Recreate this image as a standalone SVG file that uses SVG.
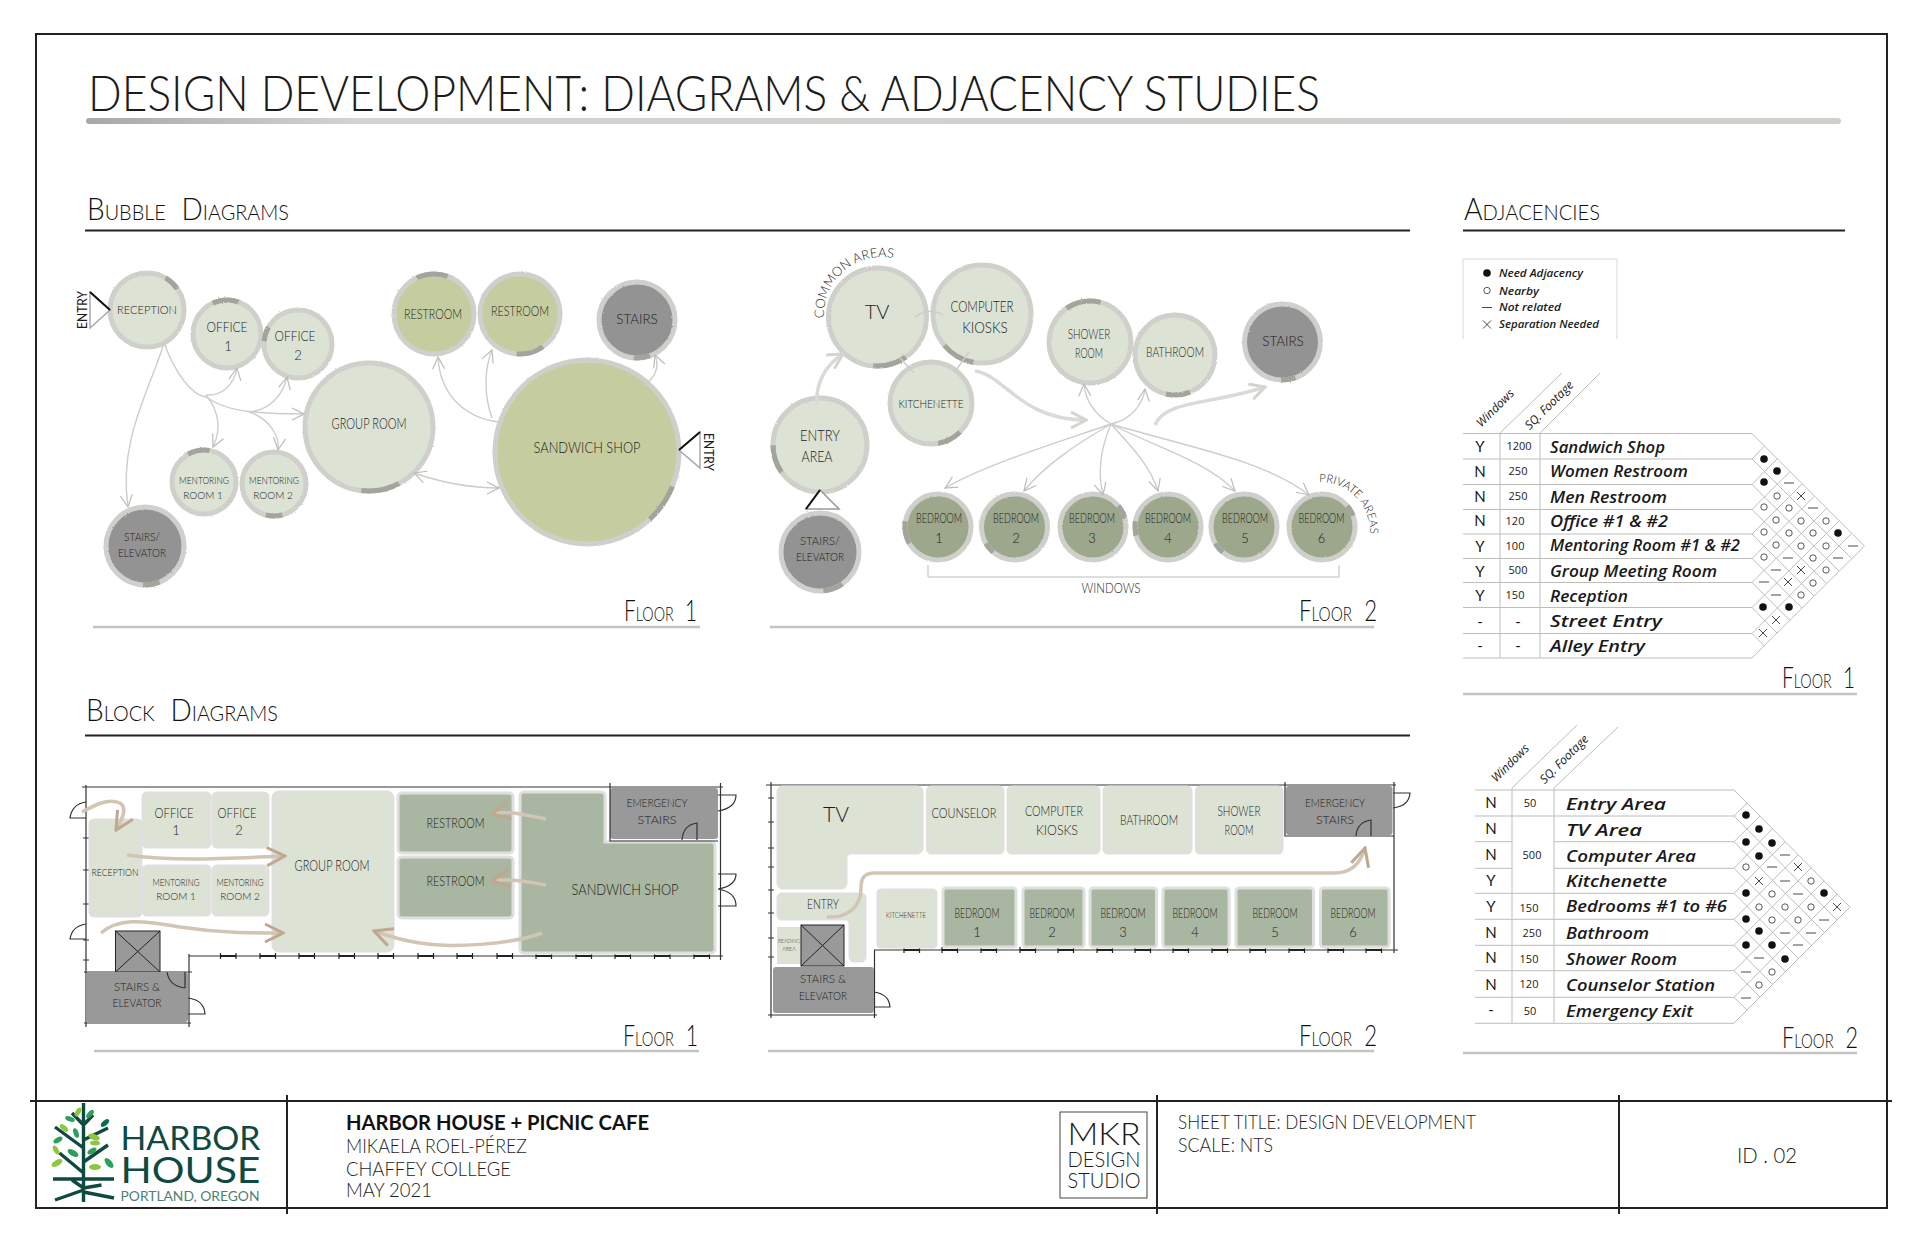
<svg xmlns="http://www.w3.org/2000/svg" width="1920" height="1242" viewBox="0 0 1920 1242">
<style>
text{font-family:"Lato","Liberation Sans",sans-serif;font-weight:300;fill:#1c1c1c;text-anchor:middle}
.s{text-anchor:start}
.l{font-size:11.5px}.m{font-size:13px}.b{font-size:15px}.h{font-size:16px}
.xs{font-size:10px}
.hd{font-size:31px;font-variant:small-caps;text-anchor:start;fill:#111;word-spacing:9px}
.fl{font-size:29px;font-variant:small-caps;text-anchor:start;fill:#111;word-spacing:8px}
.hw{font-family:"Open Sans","Liberation Sans",sans-serif;font-style:italic;font-weight:600;font-size:17px;text-anchor:start;fill:#1a1a1a}
.hn{font-family:"Open Sans","Liberation Sans",sans-serif;font-weight:400;font-size:11px;fill:#1a1a1a}
.yn{font-weight:400;font-size:15px;fill:#1a1a1a}
.lg{font-family:"Open Sans","Liberation Sans",sans-serif;font-style:italic;font-weight:600;font-size:10.5px;text-anchor:start;fill:#1a1a1a}
.hr{font-family:"Open Sans","Liberation Sans",sans-serif;font-style:italic;font-weight:500;font-size:12px;fill:#1a1a1a}
.ring{stroke:#cfd0cc;stroke-width:5;filter:url(#rough)}
.arc{fill:none;stroke:#a3a49c;stroke-width:5;filter:url(#rough)}
.pl{fill:#dce3d4}.ol{fill:#c5cda0}.gy{fill:#939393}.bd{fill:#9ca78b}
.rm{stroke:#dfdfdd;stroke-width:3}.gr{fill:#dce3d4}.dg{fill:#a9b6a1}.st{fill:#999}
.wall{fill:none;stroke:#333;stroke-width:1.2}
.heavy{fill:none;stroke:#222;stroke-width:2}
.u{stroke:#c3c3c0;stroke-width:2.5;fill:none}
.c{fill:none;stroke:#cdcdca;stroke-width:1.4}
.c2{fill:none;stroke:#dadad7;stroke-width:3.5}
.br{fill:none;stroke:#d2c5b4;stroke-width:3.5}
.t{fill:none;stroke:#bdbdb9;stroke-width:1}
.sym{fill:none;stroke:#333;stroke-width:.9}
.dot{fill:#111}.ring2{fill:#fff;stroke:#444;stroke-width:.9}
.tree{fill:none;stroke:#0e4a40;stroke-width:3.4}
.lf{fill:#8dc63f}.lf2{fill:#2f9e5e}.lf3{fill:#0f6b4f}
</style>
<defs>
<marker id="v" viewBox="0 0 14 14" refX="13" refY="7" markerWidth="14" markerHeight="14" markerUnits="userSpaceOnUse" orient="auto-start-reverse"><path d="M1,1 L13,7 L1,13" fill="none" stroke="#bcbcb8" stroke-width="1.2"/></marker>
<marker id="vt" viewBox="0 0 18 18" refX="16" refY="9" markerWidth="18" markerHeight="18" markerUnits="userSpaceOnUse" orient="auto"><path d="M1,1 L16,9 L1,17" fill="none" stroke="#d4d4d1" stroke-width="3"/></marker>
<marker id="vb" viewBox="0 0 22 22" refX="20" refY="11" markerWidth="22" markerHeight="22" markerUnits="userSpaceOnUse" orient="auto"><path d="M2,2 L20,11 L2,20" fill="none" stroke="#bfa88f" stroke-width="3"/></marker>
<filter id="rough" x="-10%" y="-10%" width="120%" height="120%"><feTurbulence type="fractalNoise" baseFrequency="0.8" numOctaves="2" seed="3"/><feDisplacementMap in="SourceGraphic" scale="2"/></filter>
<linearGradient id="ug" x1="0" x2="1" y1="0" y2="0"><stop offset="0" stop-color="#a8a8a6"/><stop offset=".15" stop-color="#d2d2d0"/><stop offset="1" stop-color="#cfcfcc"/></linearGradient>
<path id="win" d="M0,-3V3M15.5,-3V3" stroke="#222" stroke-width="1.2" fill="none"/>
<path id="wbar" d="M0,0H15.5" stroke="#222" stroke-width="2" fill="none"/>
<g id="dotS"><circle r="3.8" class="dot"/></g>
<g id="o"><circle r="3.2" class="ring2"/></g>
<g id="d"><path d="M-5,0H5" class="sym"/></g>
<g id="x"><path d="M-4,-4L4,4M-4,4L4,-4" class="sym"/></g>
<path id="com" d="M824,318 A58,58 0 0 1 897,259"/>
<path id="prv" d="M1319,482 A50,50 0 0 1 1370,533"/>
</defs>
<rect width="1920" height="1242" fill="#fff"/>

<g id="frame">
<rect x="36" y="34" width="1851" height="1174" class="heavy"/>
<path d="M30,1101H1892M287,1095V1214M1157,1095V1214M1619,1095V1214" class="heavy"/>
</g>

<g id="titles">
<text class="s" x="88" y="111" font-size="50" textLength="1232" lengthAdjust="spacingAndGlyphs" fill="#111">DESIGN DEVELOPMENT: DIAGRAMS &amp; ADJACENCY STUDIES</text>
<rect x="86" y="118" width="1755" height="6" rx="3" fill="url(#ug)"/>
<text class="hd" x="87" y="220" textLength="202" lengthAdjust="spacingAndGlyphs">Bubble Diagrams</text>
<path d="M85,230.5H1410M1463,230.5H1845M85,735.5H1410" stroke="#222" stroke-width="2" fill="none"/>
<text class="hd" x="86" y="721" textLength="192" lengthAdjust="spacingAndGlyphs">Block Diagrams</text>
<text class="hd" x="1464" y="220" textLength="136" lengthAdjust="spacingAndGlyphs">Adjacencies</text>
</g>

<g id="bubble-floor1">
<g id="n-reception"><circle cx="147" cy="310" r="37" class="ring pl"/><circle cx="147" cy="310" r="37" pathLength="360" class="arc" stroke-dasharray="25 335" stroke-dashoffset="-300"/><text class="l" x="147" y="314" textLength="60" lengthAdjust="spacingAndGlyphs">RECEPTION</text></g>
<g id="n-office1"><circle cx="227" cy="334" r="34" class="ring pl"/><circle cx="227" cy="334" r="34" pathLength="360" class="arc" stroke-dasharray="45 315" stroke-dashoffset="-245"/><text class="m" x="227" y="332" textLength="41" lengthAdjust="spacingAndGlyphs">OFFICE</text><text class="m" x="228" y="351">1</text></g>
<g id="n-office2"><circle cx="298" cy="344" r="34" class="ring pl"/><circle cx="298" cy="344" r="34" pathLength="360" class="arc" stroke-dasharray="25 335" stroke-dashoffset="-185"/><text class="m" x="295" y="341" textLength="41" lengthAdjust="spacingAndGlyphs">OFFICE</text><text class="m" x="298" y="360">2</text></g>
<g id="n-group"><circle cx="369" cy="427" r="64" class="ring pl"/><circle cx="369" cy="427" r="64" pathLength="360" class="arc" stroke-dasharray="35 325" stroke-dashoffset="-62"/><text class="b" x="369" y="429" textLength="75" lengthAdjust="spacingAndGlyphs">GROUP ROOM</text></g>
<g id="n-rest1"><circle cx="434" cy="314" r="40" class="ring ol"/><circle cx="434" cy="314" r="40" pathLength="360" class="arc" stroke-dasharray="45 315" stroke-dashoffset="-245"/><text class="m" x="433" y="319" textLength="58" lengthAdjust="spacingAndGlyphs">RESTROOM</text></g>
<g id="n-rest2"><circle cx="520" cy="314" r="40" class="ring ol"/><circle cx="520" cy="314" r="40" pathLength="360" class="arc" stroke-dasharray="40 320" stroke-dashoffset="-55"/><text class="m" x="520" y="316" textLength="58" lengthAdjust="spacingAndGlyphs">RESTROOM</text></g>
<g id="n-stairs"><circle cx="637" cy="320" r="38" class="ring gy"/><circle cx="637" cy="320" r="38" pathLength="360" class="arc" stroke-dasharray="25 335" stroke-dashoffset="-70"/><text class="m" x="637" y="324" textLength="41.5" lengthAdjust="spacingAndGlyphs">STAIRS</text></g>
<g id="n-sandwich"><circle cx="587" cy="452" r="92" class="ring ol"/><circle cx="587" cy="452" r="92" pathLength="360" class="arc" stroke-dasharray="25 335" stroke-dashoffset="-22"/><text class="h" x="587" y="453" textLength="107" lengthAdjust="spacingAndGlyphs">SANDWICH SHOP</text></g>
<g id="n-ment1"><circle cx="204" cy="482" r="32" class="ring pl"/><circle cx="204" cy="482" r="32" pathLength="360" class="arc" stroke-dasharray="40 320" stroke-dashoffset="-240"/><text class="xs" x="204" y="484" textLength="50" lengthAdjust="spacingAndGlyphs">MENTORING</text><text class="xs" x="203" y="499">ROOM 1</text></g>
<g id="n-ment2"><circle cx="274" cy="484" r="32" class="ring pl"/><circle cx="274" cy="484" r="32" pathLength="360" class="arc" stroke-dasharray="30 330" stroke-dashoffset="-75"/><text class="xs" x="274" y="484" textLength="50" lengthAdjust="spacingAndGlyphs">MENTORING</text><text class="xs" x="273" y="499">ROOM 2</text></g>
<g id="n-stelev"><circle cx="145" cy="546" r="39" class="ring gy"/><circle cx="145" cy="546" r="39" pathLength="360" class="arc" stroke-dasharray="25 335" stroke-dashoffset="-68"/><text class="l" x="142" y="541" textLength="36" lengthAdjust="spacingAndGlyphs">STAIRS/</text><text class="l" x="142" y="557" textLength="48" lengthAdjust="spacingAndGlyphs">ELEVATOR</text></g>
<g id="n-entry1"><path d="M90,292L110,310L90,328Z" fill="#fff" stroke="#aaa" stroke-width="1.5"/><path d="M90,292L110,310" stroke="#111" stroke-width="2"/><text class="m" transform="translate(87,310) rotate(-90)" textLength="38" lengthAdjust="spacingAndGlyphs" style="font-weight:400">ENTRY</text></g>
<g id="n-entry2"><path d="M700,432L679,450L700,468Z" fill="#fff" stroke="#aaa" stroke-width="1.5"/><path d="M700,432L679,450" stroke="#111" stroke-width="2"/><text class="m" transform="translate(704,452) rotate(90)" textLength="38" lengthAdjust="spacingAndGlyphs" style="font-weight:400">ENTRY</text></g>
<text class="fl" x="624" y="621" textLength="73" lengthAdjust="spacingAndGlyphs">Floor 1</text>
<path class="u" d="M93,627H700"/>
</g>

<g id="bubble-floor2">
<g id="n-tv"><circle cx="877.500" cy="317" r="49" class="ring pl"/><circle cx="877.500" cy="317" r="49" pathLength="360" class="arc" stroke-dasharray="40 320" stroke-dashoffset="-55"/><text x="877" y="319" style="font-size:20px">TV</text></g>
<g id="n-comp"><circle cx="982" cy="314" r="49" class="ring pl"/><circle cx="982" cy="314" r="49" pathLength="360" class="arc" stroke-dasharray="40 320" stroke-dashoffset="-100"/><text class="b" x="982" y="312" textLength="63" lengthAdjust="spacingAndGlyphs">COMPUTER</text><text class="b" x="985" y="333" textLength="45.500" lengthAdjust="spacingAndGlyphs">KIOSKS</text></g>
<g id="n-shower"><circle cx="1090" cy="342" r="41" class="ring pl"/><circle cx="1090" cy="342" r="41" pathLength="360" class="arc" stroke-dasharray="50 310" stroke-dashoffset="-235"/><text class="m" x="1089" y="339" textLength="42.500" lengthAdjust="spacingAndGlyphs">SHOWER</text><text class="m" x="1089" y="358" textLength="28" lengthAdjust="spacingAndGlyphs">ROOM</text></g>
<g id="n-bath"><circle cx="1175" cy="355" r="40" class="ring pl"/><circle cx="1175" cy="355" r="40" pathLength="360" class="arc" stroke-dasharray="35 325" stroke-dashoffset="-68"/><text class="m" x="1175" y="357" textLength="58" lengthAdjust="spacingAndGlyphs">BATHROOM</text></g>
<g id="n-st2"><circle cx="1282.500" cy="342" r="38" class="ring gy"/><circle cx="1282.500" cy="342" r="38" pathLength="360" class="arc" stroke-dasharray="22 338" stroke-dashoffset="-70"/><text class="m" x="1283" y="346" textLength="41.500" lengthAdjust="spacingAndGlyphs">STAIRS</text></g>
<g id="n-kit"><circle cx="931" cy="403" r="41" class="ring pl"/><circle cx="931" cy="403" r="41" pathLength="360" class="arc" stroke-dasharray="35 325" stroke-dashoffset="-45"/><text class="l" x="931" y="408" textLength="65" lengthAdjust="spacingAndGlyphs">KITCHENETTE</text></g>
<g id="n-entarea"><circle cx="820" cy="445" r="47" class="ring pl"/><circle cx="820" cy="445" r="47" pathLength="360" class="arc" stroke-dasharray="35 325" stroke-dashoffset="-145"/><text class="b" x="820" y="441" textLength="40" lengthAdjust="spacingAndGlyphs">ENTRY</text><text class="b" x="817" y="462" textLength="31" lengthAdjust="spacingAndGlyphs">AREA</text></g>
<g id="n-se2"><circle cx="820" cy="552" r="39" class="ring gy"/><circle cx="820" cy="552" r="39" pathLength="360" class="arc" stroke-dasharray="30 330" stroke-dashoffset="-55"/><text class="l" x="820" y="545" textLength="40" lengthAdjust="spacingAndGlyphs">STAIRS/</text><text class="l" x="820" y="561" textLength="48" lengthAdjust="spacingAndGlyphs">ELEVATOR</text></g>
<g id="n-entry3"><path d="M806,509L820,490L839,509Z" fill="#fff" stroke="#999" stroke-width="1.5"/><path d="M806,509L820,490" stroke="#111" stroke-width="2"/></g>
<g id="n-bed1"><circle cx="938" cy="527" r="33" class="ring bd"/><circle cx="938" cy="527" r="33" pathLength="360" class="arc" stroke-dasharray="40 320" stroke-dashoffset="-150"/><text class="m" x="939" y="523" textLength="46" lengthAdjust="spacingAndGlyphs">BEDROOM</text><text class="m" x="939" y="543">1</text></g>
<g id="n-bed2"><circle cx="1014.500" cy="527" r="33" class="ring bd"/><circle cx="1014.500" cy="527" r="33" pathLength="360" class="arc" stroke-dasharray="20 340" stroke-dashoffset="-130"/><text class="m" x="1016" y="523" textLength="46" lengthAdjust="spacingAndGlyphs">BEDROOM</text><text class="m" x="1016" y="543">2</text></g>
<g id="n-bed3"><circle cx="1093" cy="527" r="33" class="ring bd"/><circle cx="1093" cy="527" r="33" pathLength="360" class="arc" stroke-dasharray="25 335" stroke-dashoffset="-320"/><text class="m" x="1092" y="523" textLength="46" lengthAdjust="spacingAndGlyphs">BEDROOM</text><text class="m" x="1092" y="543">3</text></g>
<g id="n-bed4"><circle cx="1168" cy="527" r="33" class="ring bd"/><circle cx="1168" cy="527" r="33" pathLength="360" class="arc" stroke-dasharray="25 335" stroke-dashoffset="-165"/><text class="m" x="1168" y="523" textLength="46" lengthAdjust="spacingAndGlyphs">BEDROOM</text><text class="m" x="1168" y="543">4</text></g>
<g id="n-bed5"><circle cx="1244" cy="527" r="33" class="ring bd"/><circle cx="1244" cy="527" r="33" pathLength="360" class="arc" stroke-dasharray="20 340" stroke-dashoffset="-130"/><text class="m" x="1245" y="523" textLength="46" lengthAdjust="spacingAndGlyphs">BEDROOM</text><text class="m" x="1245" y="543">5</text></g>
<g id="n-bed6"><circle cx="1322" cy="527" r="33" class="ring bd"/><circle cx="1322" cy="527" r="33" pathLength="360" class="arc" stroke-dasharray="20 340" stroke-dashoffset="-320"/><text class="m" x="1321.500" y="523" textLength="46" lengthAdjust="spacingAndGlyphs">BEDROOM</text><text class="m" x="1321.500" y="543">6</text></g>
<path d="M928,565V577H1339V565" class="t"/>
<text class="m" x="1111" y="593" textLength="59" lengthAdjust="spacingAndGlyphs">WINDOWS</text>
<text class="m" style="text-anchor:start"><textPath href="#com">COMMON AREAS</textPath></text>
<text class="l" style="text-anchor:start"><textPath href="#prv">PRIVATE AREAS</textPath></text>
<text class="fl" x="1299" y="621" textLength="78" lengthAdjust="spacingAndGlyphs">Floor 2</text>
<path class="u" d="M770,627H1374"/>
</g>

<g id="block-floor1">
<path class="wall" d="M82,787H723M86,785V1027M720.500,783V960M189,956H723M189,954V1027M84,1023H191M84,972H192"/>
<g id="b1-windows"><use href="#wbar" x="220.500" y="956"/><use href="#win" x="220.500" y="956"/><use href="#wbar" x="260" y="956"/><use href="#win" x="260" y="956"/><use href="#wbar" x="299" y="956"/><use href="#win" x="299" y="956"/><use href="#wbar" x="339" y="956"/><use href="#win" x="339" y="956"/><use href="#wbar" x="378" y="956"/><use href="#win" x="378" y="956"/><use href="#wbar" x="418" y="956"/><use href="#win" x="418" y="956"/><use href="#wbar" x="457" y="956"/><use href="#win" x="457" y="956"/><use href="#wbar" x="497" y="956"/><use href="#win" x="497" y="956"/><use href="#wbar" x="536" y="956"/><use href="#win" x="536" y="956"/><use href="#wbar" x="576" y="956"/><use href="#win" x="576" y="956"/><use href="#wbar" x="615" y="956"/><use href="#win" x="615" y="956"/><use href="#wbar" x="654.500" y="956"/><use href="#win" x="654.500" y="956"/><use href="#wbar" x="694" y="956"/><use href="#win" x="694" y="956"/></g>
<path class="wall" d="M83,838H89M83,870H89M83,904H89M83,940H89M83,960H89"/>
<path class="wall" d="M86,802Q72,804 70,818H86M86,924Q72,926 70,939H86M718,795H736Q736,808 718,811M718,874H736Q736,886 718,889M718,906H736Q736,892 718,889M188,998Q204,1000 205,1014H188"/>
<g id="b1-office1"><rect x="143" y="793" width="67" height="54" rx="4" class="rm gr"/><text class="m" x="174" y="818" textLength="39" lengthAdjust="spacingAndGlyphs">OFFICE</text><text class="m" x="176" y="835">1</text></g>
<g id="b1-office2"><rect x="213" y="793" width="55" height="54" rx="4" class="rm gr"/><text class="m" x="237" y="818" textLength="39" lengthAdjust="spacingAndGlyphs">OFFICE</text><text class="m" x="239" y="835">2</text></g>
<g id="b1-reception"><rect x="90" y="820" width="51" height="96" rx="4" class="rm gr"/><text class="xs" x="115" y="876" textLength="47" lengthAdjust="spacingAndGlyphs">RECEPTION</text></g>
<g id="b1-ment1"><rect x="143" y="866" width="67" height="49" rx="4" class="rm gr"/><text class="xs" x="176" y="886" textLength="47" lengthAdjust="spacingAndGlyphs">MENTORING</text><text class="xs" x="176" y="900">ROOM 1</text></g>
<g id="b1-ment2"><rect x="213" y="866" width="55" height="49" rx="4" class="rm gr"/><text class="xs" x="240" y="886" textLength="47" lengthAdjust="spacingAndGlyphs">MENTORING</text><text class="xs" x="240" y="900">ROOM 2</text></g>
<g id="b1-group"><rect x="273" y="792" width="120" height="159" rx="6" class="rm gr"/><text class="b" x="332" y="871" textLength="75" lengthAdjust="spacingAndGlyphs">GROUP ROOM</text></g>
<g id="b1-rest1"><rect x="398" y="793" width="115" height="60" rx="4" class="rm dg"/><text class="m" x="455.500" y="828" textLength="58" lengthAdjust="spacingAndGlyphs">RESTROOM</text></g>
<g id="b1-rest2"><rect x="398" y="857" width="115" height="61" rx="4" class="rm dg"/><text class="m" x="455.500" y="886" textLength="58" lengthAdjust="spacingAndGlyphs">RESTROOM</text></g>
<g id="b1-sandwich"><path d="M524,792H601a4,4 0 0 1 4,4V842H711a4,4 0 0 1 4,4V949a4,4 0 0 1 -4,4H524a4,4 0 0 1 -4,-4V796a4,4 0 0 1 4,-4Z" class="rm dg"/><text class="h" x="625" y="895" textLength="107" lengthAdjust="spacingAndGlyphs">SANDWICH SHOP</text></g>
<g id="b1-emerg"><rect x="610" y="788" width="108" height="51" rx="3" class="st"/><path class="wall" d="M610,783V841H718"/><path class="wall" d="M697,840V823Q683,825 682,840"/><text class="l" x="657" y="807" textLength="61" lengthAdjust="spacingAndGlyphs">EMERGENCY</text><text class="l" x="657" y="824" textLength="39" lengthAdjust="spacingAndGlyphs">STAIRS</text></g>
<g id="b1-elev"><rect x="115.500" y="931" width="44.500" height="41" class="st" stroke="#222"/><path d="M115.500,931L160,972M160,931L115.500,972" stroke="#222" fill="none"/></g>
<g id="b1-stairs"><rect x="86" y="972" width="102" height="50" rx="3" class="st"/><path class="wall" d="M185,988V972M167,972Q169,986 185,988"/><text class="l" x="137" y="991" textLength="46" lengthAdjust="spacingAndGlyphs">STAIRS &amp;</text><text class="l" x="137" y="1007" textLength="49" lengthAdjust="spacingAndGlyphs">ELEVATOR</text></g>
<text class="fl" x="623" y="1046" textLength="75" lengthAdjust="spacingAndGlyphs">Floor 1</text>
<path class="u" d="M94,1051H699"/>
</g>

<g id="block-floor2">
<path class="wall" d="M766,785H1396M771,782V1018M1394,782V953M874,950H1398M874.500,950V1018M768,1015H877M1285,782V836H1394"/>
<path class="wall" d="M768,798H774M768,822H774M768,848H774M768,867H774M768,890H774M768,913H774M768,938H774M768,957H774"/>
<g id="b2-windows"><use href="#wbar" x="904" y="950"/><use href="#win" x="904" y="950"/><use href="#wbar" x="942" y="950"/><use href="#win" x="942" y="950"/><use href="#wbar" x="981" y="950"/><use href="#win" x="981" y="950"/><use href="#wbar" x="1020" y="950"/><use href="#win" x="1020" y="950"/><use href="#wbar" x="1058" y="950"/><use href="#win" x="1058" y="950"/><use href="#wbar" x="1097" y="950"/><use href="#win" x="1097" y="950"/><use href="#wbar" x="1135" y="950"/><use href="#win" x="1135" y="950"/><use href="#wbar" x="1173" y="950"/><use href="#win" x="1173" y="950"/><use href="#wbar" x="1212" y="950"/><use href="#win" x="1212" y="950"/><use href="#wbar" x="1250" y="950"/><use href="#win" x="1250" y="950"/><use href="#wbar" x="1289" y="950"/><use href="#win" x="1289" y="950"/><use href="#wbar" x="1328" y="950"/><use href="#win" x="1328" y="950"/><use href="#wbar" x="1366" y="950"/><use href="#win" x="1366" y="950"/></g>
<g id="b2-tv"><path d="M783,787H917a5,5 0 0 1 5,5V848a5,5 0 0 1 -5,5H851a5,5 0 0 0 -5,5V883a5,5 0 0 1 -5,5H783a5,5 0 0 1 -5,-5V792a5,5 0 0 1 5,-5Z" class="rm gr"/><text x="836" y="822" style="font-size:21px">TV</text></g>
<g id="b2-couns"><rect x="927.500" y="787" width="75.500" height="66" rx="4" class="rm gr"/><text class="m" x="964" y="818" textLength="65" lengthAdjust="spacingAndGlyphs">COUNSELOR</text></g>
<g id="b2-comp"><rect x="1008" y="787" width="91" height="66" rx="4" class="rm gr"/><text class="m" x="1054" y="816" textLength="58" lengthAdjust="spacingAndGlyphs">COMPUTER</text><text class="m" x="1057" y="835" textLength="42" lengthAdjust="spacingAndGlyphs">KIOSKS</text></g>
<g id="b2-bath"><rect x="1104" y="787" width="87" height="66" rx="4" class="rm gr"/><text class="m" x="1149" y="825" textLength="58" lengthAdjust="spacingAndGlyphs">BATHROOM</text></g>
<g id="b2-shower"><rect x="1196.500" y="787" width="85.500" height="66" rx="4" class="rm gr"/><text class="m" x="1239" y="816" textLength="43" lengthAdjust="spacingAndGlyphs">SHOWER</text><text class="m" x="1239" y="835" textLength="29" lengthAdjust="spacingAndGlyphs">ROOM</text></g>
<g id="b2-emerg"><rect x="1286" y="786" width="106.500" height="49" rx="3" class="st"/><path class="wall" d="M1371,836V820Q1357,822 1356,836"/><text class="l" x="1335" y="807" textLength="60" lengthAdjust="spacingAndGlyphs">EMERGENCY</text><text class="l" x="1335" y="824" textLength="38" lengthAdjust="spacingAndGlyphs">STAIRS</text></g>
<path class="wall" d="M1393,793H1410Q1409,806 1393,808M874,992Q889,994 890,1007H874"/>
<g id="b2-entry"><path d="M782,894H861a4,4 0 0 1 4,4V957a4,4 0 0 1 -4,4H854a4,4 0 0 1 -4,-4V923a4,4 0 0 0 -4,-4H782a4,4 0 0 1 -4,-4V898a4,4 0 0 1 4,-4Z" class="rm gr"/><text class="m" x="823" y="909" textLength="32" lengthAdjust="spacingAndGlyphs">ENTRY</text></g>
<g id="b2-reading"><rect x="777" y="927" width="24" height="37" class="gr"/><text x="789" y="943" style="font-size:5.500px" textLength="22" lengthAdjust="spacingAndGlyphs">READING</text><text x="789" y="951" style="font-size:5.500px">AREA</text></g>
<g id="b2-elev"><rect x="801" y="925" width="43" height="41" class="st" stroke="#222"/><path d="M801,925L844,966M844,925L801,966" stroke="#222" fill="none"/></g>
<g id="b2-stairs"><rect x="773" y="967" width="101" height="46" rx="3" class="st"/><text class="l" x="823" y="983" textLength="46" lengthAdjust="spacingAndGlyphs">STAIRS &amp;</text><text class="l" x="823" y="1000" textLength="48" lengthAdjust="spacingAndGlyphs">ELEVATOR</text></g>
<g id="b2-kit"><rect x="878" y="890" width="58" height="57" rx="3" class="rm gr"/><text x="906" y="918" style="font-size:7.500px" textLength="40" lengthAdjust="spacingAndGlyphs">KITCHENETTE</text></g>
<g id="b2-bed1"><rect x="943" y="888" width="73" height="59" rx="3" class="rm dg"/><text class="m" x="977" y="918" textLength="45" lengthAdjust="spacingAndGlyphs">BEDROOM</text><text class="m" x="977" y="937">1</text></g>
<g id="b2-bed2"><rect x="1023" y="888" width="61" height="59" rx="3" class="rm dg"/><text class="m" x="1052" y="918" textLength="45" lengthAdjust="spacingAndGlyphs">BEDROOM</text><text class="m" x="1052" y="937">2</text></g>
<g id="b2-bed3"><rect x="1090" y="888" width="66.500" height="59" rx="3" class="rm dg"/><text class="m" x="1123" y="918" textLength="45" lengthAdjust="spacingAndGlyphs">BEDROOM</text><text class="m" x="1123" y="937">3</text></g>
<g id="b2-bed4"><rect x="1163" y="888" width="66" height="59" rx="3" class="rm dg"/><text class="m" x="1195" y="918" textLength="45" lengthAdjust="spacingAndGlyphs">BEDROOM</text><text class="m" x="1195" y="937">4</text></g>
<g id="b2-bed5"><rect x="1236" y="888" width="77.500" height="59" rx="3" class="rm dg"/><text class="m" x="1275" y="918" textLength="45" lengthAdjust="spacingAndGlyphs">BEDROOM</text><text class="m" x="1275" y="937">5</text></g>
<g id="b2-bed6"><rect x="1320.500" y="888" width="68.500" height="59" rx="3" class="rm dg"/><text class="m" x="1353" y="918" textLength="45" lengthAdjust="spacingAndGlyphs">BEDROOM</text><text class="m" x="1353" y="937">6</text></g>
<text class="fl" x="1299" y="1046" textLength="78" lengthAdjust="spacingAndGlyphs">Floor 2</text>
<path class="u" d="M768,1051H1374"/>
</g>

<g id="connectors">
<path class="c" d="M164,343C150,390 118,440 128,507" marker-end="url(#v)"/>
<path class="c" d="M164,343C176,375 192,395 206,397C222,408 240,414 304,414" marker-end="url(#v)"/>
<path class="c" d="M206,395C222,396 234,385 237,368" marker-end="url(#v)"/>
<path class="c" d="M249,412C270,410 283,395 287,377" marker-end="url(#v)"/>
<path class="c" d="M206,395C218,410 222,428 213,447" marker-end="url(#v)"/>
<path class="c" d="M249,412C268,418 280,435 278,450" marker-end="url(#v)"/>
<path class="c" d="M499,422C465,418 440,395 438,357" marker-end="url(#v)"/>
<path class="c" d="M492,418C484,395 484,370 492,350" marker-end="url(#v)"/>
<path class="c" d="M643,386C655,378 660,368 655,355" marker-end="url(#v)"/>
<path class="c" d="M414,473C440,482 470,488 499,488" marker-start="url(#v)" marker-end="url(#v)"/>
<path class="c2" d="M817,405C815,385 825,365 843,354" marker-end="url(#vt)"/>
<path class="c" d="M915,317C925,310 935,310 943,315"/>
<path class="c" d="M900,358L914,373M969,352L954,373"/>
<path class="c2" d="M975,371C1005,375 1020,420 1086,420" marker-end="url(#vt)"/>
<path class="c2" d="M1155,425C1165,400 1210,405 1265,387" marker-end="url(#vt)"/>
<path class="c" d="M1111,424C1095,415 1085,400 1084,384" marker-end="url(#v)"/>
<path class="c" d="M1111,424C1130,420 1143,405 1145,389" marker-end="url(#v)"/>
<path class="c" d="M1111,424C1050,445 985,465 945,488" marker-end="url(#v)"/>
<path class="c" d="M1111,424C1075,445 1045,465 1024,491" marker-end="url(#v)"/>
<path class="c" d="M1111,424C1100,450 1098,475 1103,495" marker-end="url(#v)"/>
<path class="c" d="M1111,424C1130,445 1150,465 1158,491" marker-end="url(#v)"/>
<path class="c" d="M1111,424C1150,445 1205,460 1235,491" marker-end="url(#v)"/>
<path class="c" d="M1111,424C1180,445 1265,460 1309,495" marker-end="url(#v)"/>
<path class="br" d="M82,812C95,805 108,798 120,803C128,808 122,820 116,830" marker-end="url(#vb)"/>
<path class="br" d="M127,855C180,862 230,858 285,856" marker-end="url(#vb)"/>
<path class="br" d="M101,933C118,918 140,920 180,927C220,933 250,933 283,933" marker-end="url(#vb)"/>
<path class="br" d="M546,819C530,816 510,810 492,814" marker-end="url(#vb)"/>
<path class="br" d="M546,885C530,882 510,878 492,881" marker-end="url(#vb)"/>
<path class="br" d="M542,933C510,945 450,948 420,943C400,940 385,935 374,931" marker-end="url(#vb)"/>
<path class="br" d="M827,917C850,918 861,905 861,888C861,878 864,873 875,873H1335C1350,873 1360,865 1365,848" marker-end="url(#vb)"/>
</g>

<g id="legend">
<path d="M1463,339V259H1617V339" fill="none" stroke="#d8d8d5"/>
<use href="#dotS" x="1487" y="273"/><text class="lg" x="1499" y="277" textLength="84" lengthAdjust="spacingAndGlyphs">Need Adjacency</text>
<use href="#o" x="1487" y="290.500"/><text class="lg" x="1499" y="295" textLength="40" lengthAdjust="spacingAndGlyphs">Nearby</text>
<use href="#d" x="1487" y="307.500"/><text class="lg" x="1499" y="311" textLength="62" lengthAdjust="spacingAndGlyphs">Not related</text>
<use href="#x" x="1487" y="324.500"/><text class="lg" x="1499" y="328" textLength="100" lengthAdjust="spacingAndGlyphs">Separation Needed</text>
</g>

<g id="adj-floor1">
<path class="t" d="M1463,433.500H1752M1463,459H1752M1463,484.500H1752M1463,509.500H1752M1463,534H1752M1463,558.500H1752M1463,582.500H1752M1463,607.500H1752M1463,633.500H1752M1463,658H1752M1500,433V658M1540,433V658M1500,433L1562,373M1540,433L1600,373"/>
<path class="t" d="M1752,433.500L1864.500,546L1752,658M1752,459L1851.500,558.500M1752,484.500L1839,571M1752,509.500L1826.500,583.500M1752,534L1814,596M1752,558.500L1802,608M1752,582.500L1790,620.500M1752,607.500L1777,633M1752,633.500L1764.500,646M1752,459L1764.500,446M1752,484.500L1777,459M1752,509.500L1790,471.500M1752,534L1802,484M1752,558.500L1814,496.500M1752,582.500L1826.500,508.500M1752,607.500L1839,521M1752,633.500L1851.500,533.500" stroke-width=".9"/>
<g id="adj1-sym">
<use href="#dotS" x="1764" y="459"/><use href="#dotS" x="1764" y="482"/><use href="#o" x="1764" y="507"/><use href="#o" x="1764" y="532"/><use href="#o" x="1764" y="557"/><use href="#d" x="1764" y="582"/><use href="#dotS" x="1763" y="607"/><use href="#x" x="1763" y="633"/>
<use href="#dotS" x="1777" y="471"/><use href="#o" x="1777" y="496"/><use href="#o" x="1776" y="520"/><use href="#o" x="1776" y="545"/><use href="#d" x="1776" y="570"/><use href="#d" x="1776" y="595"/><use href="#x" x="1776" y="620"/>
<use href="#d" x="1789" y="483"/><use href="#o" x="1789" y="508"/><use href="#o" x="1789" y="533"/><use href="#d" x="1788" y="558"/><use href="#x" x="1788" y="582"/><use href="#dotS" x="1789" y="607"/>
<use href="#x" x="1801" y="496"/><use href="#o" x="1801" y="521"/><use href="#o" x="1801" y="546"/><use href="#x" x="1801" y="570"/><use href="#o" x="1801" y="595"/>
<use href="#d" x="1813" y="508"/><use href="#o" x="1813" y="533"/><use href="#o" x="1813" y="558"/><use href="#o" x="1813" y="583"/>
<use href="#o" x="1826" y="521"/><use href="#o" x="1826" y="546"/><use href="#o" x="1826" y="570"/>
<use href="#dotS" x="1838" y="533"/><use href="#d" x="1838" y="558"/>
<use href="#d" x="1853" y="546"/>
</g>
<g id="adj1-text">
<text class="hr" transform="translate(1498,411) rotate(-45)">Windows</text>
<text class="hr" transform="translate(1552,408) rotate(-45)">SQ. Footage</text>
<text class="yn" x="1480" y="452">Y</text><text class="yn" x="1480" y="477">N</text><text class="yn" x="1480" y="502">N</text><text class="yn" x="1480" y="526">N</text><text class="yn" x="1480" y="552">Y</text><text class="yn" x="1480" y="577">Y</text><text class="yn" x="1480" y="601">Y</text><text class="yn" x="1480" y="627">-</text><text class="yn" x="1480" y="651">-</text>
<text class="hn" x="1519" y="450">1200</text><text class="hn" x="1518" y="475">250</text><text class="hn" x="1518" y="500">250</text><text class="hn" x="1515" y="525">120</text><text class="hn" x="1515" y="550">100</text><text class="hn" x="1518" y="574">500</text><text class="hn" x="1515" y="599">150</text><text class="yn" x="1518" y="627">-</text><text class="yn" x="1518" y="651">-</text>
<text class="hw" x="1550" y="453" textLength="115" lengthAdjust="spacingAndGlyphs">Sandwich Shop</text>
<text class="hw" x="1550" y="477" textLength="138" lengthAdjust="spacingAndGlyphs">Women Restroom</text>
<text class="hw" x="1550" y="503" textLength="117" lengthAdjust="spacingAndGlyphs">Men Restroom</text>
<text class="hw" x="1550" y="527" textLength="118" lengthAdjust="spacingAndGlyphs">Office #1 &amp; #2</text>
<text class="hw" x="1550" y="551" textLength="190" lengthAdjust="spacingAndGlyphs">Mentoring Room #1 &amp; #2</text>
<text class="hw" x="1550" y="577" textLength="167" lengthAdjust="spacingAndGlyphs">Group Meeting Room</text>
<text class="hw" x="1550" y="602" textLength="78" lengthAdjust="spacingAndGlyphs">Reception</text>
<text class="hw" x="1550" y="627" textLength="112" lengthAdjust="spacingAndGlyphs">Street Entry</text>
<text class="hw" x="1550" y="652" textLength="95" lengthAdjust="spacingAndGlyphs">Alley Entry</text>
</g>
<text class="fl" x="1782" y="688" textLength="73" lengthAdjust="spacingAndGlyphs">Floor 1</text>
<path class="u" d="M1463,694H1857"/>
</g>

<g id="adj-floor2">
<path class="t" d="M1475,790H1734M1475,816H1734M1475,841.700H1512M1554,841.700H1734M1475,868.300H1512M1554,868.300H1734M1475,893.300H1734M1475,919.300H1734M1475,945.300H1734M1475,970.700H1734M1475,997.300H1734M1475,1023.300H1734M1512,788V1023M1554,788V1023M1512,788L1577,725M1554,788L1618,727"/>
<path class="t" d="M1734,790L1850,907L1734,1023M1734,816L1837,920M1734,841.700L1824,932M1734,868.300L1811,945.300M1734,893.300L1798,958M1734,919.300L1785,971M1734,945.300L1772,984M1734,970.700L1760,997M1734,997.300L1747,1010M1734,816L1747,803M1734,841.700L1760,816M1734,868.300L1772,829M1734,893.300L1785,842M1734,919.300L1798,855M1734,945.300L1811,868M1734,970.700L1824,881M1734,997.300L1837,894" stroke-width=".9"/>
<g id="adj2-sym">
<use href="#dotS" x="1746" y="815"/><use href="#dotS" x="1746" y="842"/><use href="#o" x="1746" y="867"/><use href="#dotS" x="1746" y="893"/><use href="#dotS" x="1746" y="919"/><use href="#dotS" x="1746" y="945"/><use href="#d" x="1746" y="972"/><use href="#d" x="1746" y="998"/>
<use href="#dotS" x="1759" y="829"/><use href="#dotS" x="1759" y="856"/><use href="#x" x="1759" y="881"/><use href="#o" x="1759" y="907"/><use href="#dotS" x="1759" y="931"/><use href="#d" x="1759" y="958"/><use href="#o" x="1759" y="985"/>
<use href="#dotS" x="1772" y="843"/><use href="#d" x="1772" y="867"/><use href="#o" x="1772" y="894"/><use href="#o" x="1772" y="920"/><use href="#dotS" x="1772" y="945"/><use href="#o" x="1772" y="972"/>
<use href="#d" x="1785" y="855"/><use href="#d" x="1785" y="881"/><use href="#o" x="1785" y="907"/><use href="#d" x="1785" y="933"/><use href="#dotS" x="1785" y="959"/>
<use href="#x" x="1798" y="867"/><use href="#d" x="1798" y="894"/><use href="#o" x="1798" y="920"/><use href="#d" x="1798" y="945"/>
<use href="#o" x="1811" y="881"/><use href="#o" x="1811" y="907"/><use href="#d" x="1811" y="933"/>
<use href="#dotS" x="1824" y="893"/><use href="#d" x="1824" y="920"/>
<use href="#x" x="1837" y="907"/>
</g>
<g id="adj2-text">
<text class="hr" transform="translate(1513,766) rotate(-45)">Windows</text>
<text class="hr" transform="translate(1567,762) rotate(-45)">SQ. Footage</text>
<text class="yn" x="1491" y="808">N</text><text class="yn" x="1491" y="834">N</text><text class="yn" x="1491" y="860">N</text><text class="yn" x="1491" y="886">Y</text><text class="yn" x="1491" y="912">Y</text><text class="yn" x="1491" y="938">N</text><text class="yn" x="1491" y="963">N</text><text class="yn" x="1491" y="990">N</text><text class="yn" x="1491" y="1015">-</text>
<text class="hn" x="1530" y="807">50</text><text class="hn" x="1532" y="859">500</text><text class="hn" x="1529" y="912">150</text><text class="hn" x="1532" y="937">250</text><text class="hn" x="1529" y="963">150</text><text class="hn" x="1529" y="988">120</text><text class="hn" x="1530" y="1015">50</text>
<text class="hw" x="1566" y="810" textLength="100" lengthAdjust="spacingAndGlyphs">Entry Area</text>
<text class="hw" x="1566" y="836" textLength="76" lengthAdjust="spacingAndGlyphs">TV Area</text>
<text class="hw" x="1566" y="862" textLength="130" lengthAdjust="spacingAndGlyphs">Computer Area</text>
<text class="hw" x="1566" y="887" textLength="101" lengthAdjust="spacingAndGlyphs">Kitchenette</text>
<text class="hw" x="1566" y="912" textLength="161" lengthAdjust="spacingAndGlyphs">Bedrooms #1 to #6</text>
<text class="hw" x="1566" y="939" textLength="83" lengthAdjust="spacingAndGlyphs">Bathroom</text>
<text class="hw" x="1566" y="965" textLength="111" lengthAdjust="spacingAndGlyphs">Shower Room</text>
<text class="hw" x="1566" y="991" textLength="149" lengthAdjust="spacingAndGlyphs">Counselor Station</text>
<text class="hw" x="1566" y="1017" textLength="127" lengthAdjust="spacingAndGlyphs">Emergency Exit</text>
</g>
<text class="fl" x="1782" y="1048" textLength="76" lengthAdjust="spacingAndGlyphs">Floor 2</text>
<path class="u" d="M1463,1053H1857"/>
</g>

<g id="logo">
<path class="tree" d="M83.500,1103V1202M83.500,1125L72,1113M83.500,1125L93,1115M83.500,1148L55,1127M83.500,1140L108,1128M83.500,1162L108,1145M83.500,1173L59.500,1153M53,1179H114M83.500,1190L55,1200M83.500,1188L72,1180M83.500,1188L101.500,1185M83.500,1192L114,1198"/>
<ellipse class="lf" cx="78" cy="1112" rx="5" ry="2.500" transform="rotate(-60 78 1112)"/>
<ellipse class="lf2" cx="90" cy="1114" rx="5" ry="2.500" transform="rotate(-50 90 1114)"/>
<ellipse class="lf2" cx="70" cy="1119" rx="5" ry="2.500" transform="rotate(20 70 1119)"/>
<ellipse class="lf" cx="64" cy="1128" rx="5" ry="2.500" transform="rotate(40 64 1128)"/>
<ellipse class="lf2" cx="76" cy="1133" rx="5" ry="2.500" transform="rotate(70 76 1133)"/>
<ellipse class="lf3" cx="105" cy="1123" rx="5" ry="2.500" transform="rotate(-40 105 1123)"/>
<ellipse class="lf2" cx="58" cy="1140" rx="5" ry="2.500" transform="rotate(-30 58 1140)"/>
<ellipse class="lf" cx="94" cy="1137" rx="6" ry="3" transform="rotate(20 94 1137)"/>
<ellipse class="lf" cx="95" cy="1143" rx="5" ry="2.500"/>
<ellipse class="lf" cx="56" cy="1150" rx="5" ry="2.500" transform="rotate(60 56 1150)"/>
<ellipse class="lf2" cx="73" cy="1153" rx="6" ry="3" transform="rotate(30 73 1153)"/>
<ellipse class="lf2" cx="92" cy="1151" rx="5" ry="2.500" transform="rotate(-30 92 1151)"/>
<ellipse class="lf" cx="57" cy="1163" rx="6" ry="3" transform="rotate(-30 57 1163)"/>
<ellipse class="lf" cx="95" cy="1167" rx="6" ry="3"/>
<ellipse class="lf2" cx="109" cy="1163" rx="6" ry="3" transform="rotate(50 109 1163)"/>
<text x="190.500" y="1150" textLength="140" lengthAdjust="spacingAndGlyphs" style="font-size:32px;font-weight:400;fill:#0e4a40">HARBOR</text>
<text x="190.500" y="1183" textLength="140" lengthAdjust="spacingAndGlyphs" style="font-size:36px;font-weight:400;fill:#0e4a40">HOUSE</text>
<text x="190" y="1201" textLength="139" lengthAdjust="spacingAndGlyphs" style="font-size:12.500px;font-weight:400;fill:#4d7f74">PORTLAND, OREGON</text>
</g>

<g id="project-info">
<text class="s" x="346" y="1130" textLength="303" lengthAdjust="spacingAndGlyphs" style="font-size:21px;font-weight:700;fill:#111">HARBOR HOUSE + PICNIC CAFE</text>
<text class="s" x="346" y="1153" textLength="181" lengthAdjust="spacingAndGlyphs" style="font-size:20px">MIKAELA ROEL-PÉREZ</text>
<text class="s" x="346" y="1176" textLength="165" lengthAdjust="spacingAndGlyphs" style="font-size:20px">CHAFFEY COLLEGE</text>
<text class="s" x="346" y="1197" textLength="86" lengthAdjust="spacingAndGlyphs" style="font-size:20px">MAY 2021</text>
</g>

<g id="mkr">
<rect x="1060" y="1112" width="87" height="86" fill="none" stroke="#444"/>
<text x="1104" y="1145" textLength="73" lengthAdjust="spacingAndGlyphs" style="font-size:31px">MKR</text>
<text x="1104" y="1167" textLength="73" lengthAdjust="spacingAndGlyphs" style="font-size:21px">DESIGN</text>
<text x="1104" y="1188" textLength="73" lengthAdjust="spacingAndGlyphs" style="font-size:21px">STUDIO</text>
</g>

<g id="sheet-info">
<text class="s" x="1178" y="1129" textLength="298" lengthAdjust="spacingAndGlyphs" style="font-size:19px">SHEET TITLE: DESIGN DEVELOPMENT</text>
<text class="s" x="1178" y="1152" textLength="95" lengthAdjust="spacingAndGlyphs" style="font-size:19px">SCALE: NTS</text>
<text class="s" x="1737" y="1163" textLength="60" lengthAdjust="spacingAndGlyphs" style="font-size:22px">ID . 02</text>
</g>
</svg>
